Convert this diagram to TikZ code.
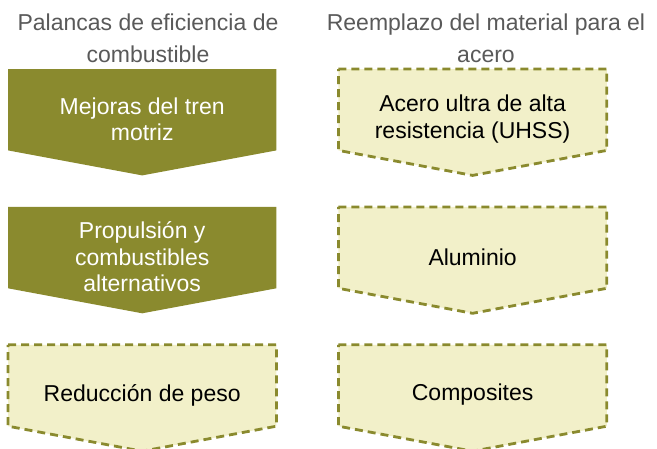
\documentclass[tikz,border=0pt]{standalone}
\usepackage{fontspec}
\setmainfont{Liberation Sans}
\usepackage{xcolor}
\usepackage{tikz}
\usetikzlibrary{calc,positioning,backgrounds}

\definecolor{levergreen}{HTML}{8A8A2E}
\definecolor{palefill}{HTML}{F2F0C9}
\definecolor{headgray}{HTML}{595959}

% chevron outline behind a named node (shape sits 3pt lower than the text)
\newcommand{\chevron}[2]{%
  \begin{scope}[on background layer]
    \draw[#2] ($(#1.north west)+(0,-3pt)$) -- ($(#1.north east)+(0,-3pt)$)
      -- ($(#1.south east)+(0,22pt)$) -- ($(#1.south)+(0,-3pt)$)
      -- ($(#1.south west)+(0,22pt)$) -- cycle;
  \end{scope}}

\begin{document}
\begin{tikzpicture}[
    box/.style={minimum width=268pt, minimum height=106pt, inner sep=0pt,
      align=center, font=\fontsize{23}{26.5}\selectfont},
    solidbox/.style={box, text=white},
    dashbox/.style={box, text=black},
    solidfill/.style={fill=levergreen, draw=none},
    dashfill/.style={fill=palefill, draw=levergreen, line width=2.8pt,
      dash pattern=on 8pt off 5pt},
    header/.style={text=headgray, align=center, inner sep=0pt,
      font=\fontsize{23}{32}\selectfont},
    node distance=31.5pt and 62pt]
\useasboundingbox (0,0) rectangle (657pt,-448pt);

% column headers
\node[header, anchor=north] (hlever) at (148pt,-14pt) {Palancas de eficiencia de\\combustible};
\node[header, anchor=north] (hsteel) at (486pt,-14pt) {Reemplazo del material para el\\acero};

% left column
\node[solidbox, anchor=north west] (tren) at (8pt,-66pt) {Mejoras del tren\\motriz};
\node[solidbox, below=of tren] (prop) {Propulsión y\\combustibles\\alternativos};
\node[dashbox, below=of prop] (peso) {Reducción de peso};

% right column
\node[dashbox, right=of tren] (uhss) {Acero ultra de alta\\resistencia (UHSS)};
\node[dashbox, right=of prop] (alu) {Aluminio};
\node[dashbox, right=of peso] (comp) {Composites};

\chevron{tren}{solidfill}
\chevron{prop}{solidfill}
\chevron{peso}{dashfill}
\chevron{uhss}{dashfill}
\chevron{alu}{dashfill}
\chevron{comp}{dashfill}
\end{tikzpicture}
\end{document}
